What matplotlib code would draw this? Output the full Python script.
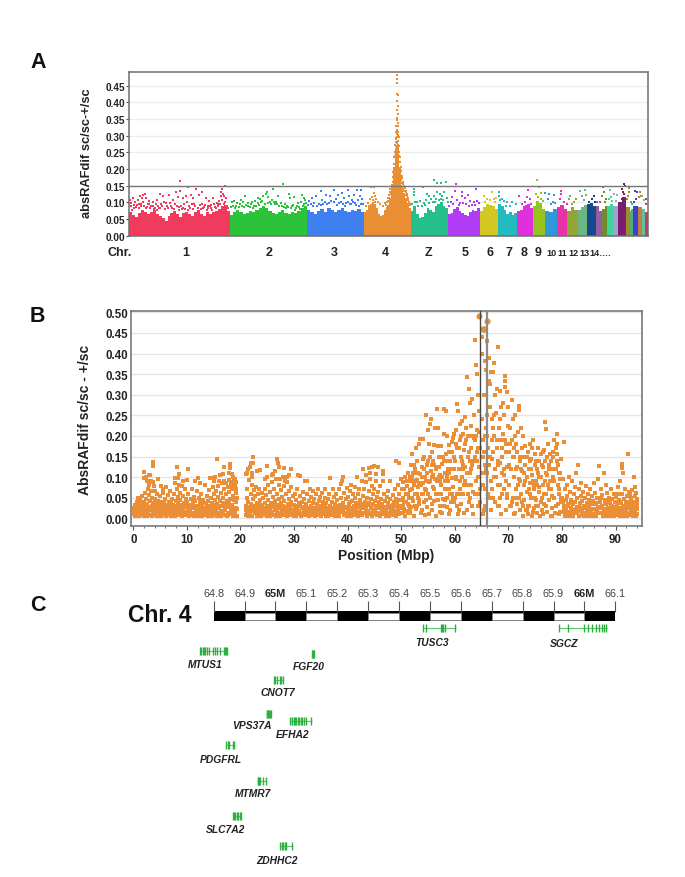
import matplotlib
matplotlib.use("Agg")
import matplotlib.pyplot as plt
import numpy as np

# Manhattan (A), chr4 scatter (B) and gene track (C).

W, H = 685, 878
plt.rcParams["font.family"] = ["Liberation Sans", "DejaVu Sans"]

# ---- panel A data ----
chr_names = ["1", "2", "3", "4", "Z", "5", "6", "7", "8", "9", "10", "11", "12", "13",
             "14", "15", "16", "17", "18", "19", "20", "21", "22", "23", "24", "25"]
chr_sizes = [197, 151, 112, 91, 73, 62, 36, 37, 31, 24, 23, 20, 21, 18,
             17, 12, 10, 11, 10, 15, 8.5, 6, 9, 8, 6.5, 6]
chr_colors = ["#f03a5e", "#2bc33a", "#3f80f0", "#e98e35", "#26bf8c", "#b03cf5", "#d3c822",
              "#22bbc0", "#e030de", "#96c31e", "#3097d8", "#e833a8", "#93a536", "#6cb686",
              "#144a8a", "#955ba5", "#6f8a33", "#3dd69a", "#a2a2d2", "#7a1f70", "#a08a30",
              "#4cb070", "#4040d0", "#c08040", "#60c0a0", "#c04060"]
# solid lower part of each chromosome
chr_core = [
    [.072, .062, .056, .068, .076, .072, .064, .070, .076, .066, .058, .052, .044, .060, .068, .074,
     .064, .056, .068, .072, .064, .060, .072, .076, .066, .060, .072, .066, .070, .074, .080, .090, .092, .074],
    [.062, .072, .078, .070, .064, .068, .074, .072, .078, .084, .090, .082, .074, .068, .064, .070,
     .076, .068, .064, .072, .068, .074, .084, .088],
    [.078, .070, .066, .074, .080, .072, .082, .076, .072, .078, .084, .074, .070, .078, .074, .080, .072],
    [.072, .078, .092, .096, .102, .096, .082, .066, .058, .062, .076, .086, .092, .112, .155, .205,
     .262, .272, .205, .150, .128, .112, .098, .082],
    [.074, .088, .066, .052, .056, .068, .084, .078, .072, .088, .094, .100, .090, .084],
    [.064, .068, .080, .086, .074, .068, .062, .060, .072, .078, .074, .084],
    [.075, .085, .096, .092, .090, .080], [.095, .088, .078, .066, .070, .062, .068],
    [.075, .078, .090, .095, .082], [.090, .105, .098, .080], [.075, .070, .080],
    [.085, .092, .080], [.075, .085, .078], [.078, .085, .092], [.095, .098, .088],
    [.090, .075], [.080, .088], [.090, .095], [.090], [.100, .115], [.085], [.075, .080], [.090],
    [.085], [.080], [.070],
]
# scattered points above the solid part, (Mb within chromosome, value)
chr_pts = [
    [(100.5, .163), (116, .145), (92, .132), (100, .134), (131, .139), (143, .130), (187, .149), (181, .140), (179, .130),
     (184, .126), (179, .120), (186, .118), (190, .112), (182, .108), (176, .105), (172, .098), (165, .112), (157, .104),
     (160, .092), (150, .112), (136, .122), (122, .122), (126, .112), (112, .118), (105, .112), (96, .116), (86, .108),
     (78, .122), (60, .125), (67, .118), (55, .108), (47, .100), (40, .105), (33, .112), (28, .122), (31, .126), (25, .112),
     (18, .108), (22, .118), (12, .100), (7, .112), (2, .108), (4, .098), (16, .092), (24, .096), (37, .094), (44, .090),
     (52, .094), (63, .096), (72, .098), (82, .090), (90, .096), (98, .086), (108, .094), (118, .090), (128, .096), (138, .092),
     (147, .086), (155, .088), (168, .086), (175, .088), (185, .096), (192, .090), (10, .082), (20, .084), (34, .082), (48, .080),
     (58, .082), (70, .080), (88, .080), (103, .080), (115, .078), (125, .080), (140, .080), (152, .078), (163, .078),
     (3, .088), (6, .078), (9, .092), (14, .086), (19, .096), (23, .088), (27, .100), (30, .090), (36, .086), (39, .096), (42, .082),
     (46, .088), (50, .084), (54, .078), (57, .090), (61, .084), (65, .090), (68, .100), (74, .088), (76, .084), (80, .098), (84, .082),
     (93, .088), (97, .076), (101, .090), (106, .084), (110, .080), (113, .100), (120, .082), (123, .096), (130, .088), (134, .082),
     (142, .096), (145, .084), (149, .092), (154, .082), (158, .090), (161, .084), (166, .096), (170, .082), (174, .096), (178, .094), (188, .100), (194, .082)],
    [(104, .156), (84, .140), (72, .130), (70, .125), (66, .118), (30, .118), (22, .107), (55, .112), (60, .110), (75, .115),
     (82, .108), (95, .118), (116, .125), (118, .112), (126, .117), (141, .122), (145, .112), (148, .108), (8, .105), (4, .102),
     (15, .098), (26, .100), (35, .097), (44, .100), (50, .104), (62, .100), (78, .102), (90, .100), (100, .098), (108, .096),
     (124, .092), (134, .098), (140, .100), (12, .090), (36, .088), (48, .090), (58, .092), (68, .096), (88, .094), (112, .090),
     (120, .084), (130, .084), (146, .096), (150, .098), (2, .086), (6, .090), (10, .082), (18, .086), (20, .094), (24, .090), (28, .086),
     (32, .092), (40, .086), (42, .094), (46, .084), (52, .088), (56, .098), (64, .104), (74, .098), (80, .094), (86, .102), (92, .096),
     (96, .090), (102, .090), (106, .086), (110, .084), (114, .086), (122, .088), (128, .078), (132, .090), (136, .086), (138, .080), (144, .088)],
    [(27, .135), (52, .137), (80, .136), (98, .137), (105, .137), (92, .122), (82, .120), (104, .120), (68, .128), (60, .122),
     (45, .118), (38, .122), (18, .118), (10, .112), (5, .104), (30, .108), (56, .110), (72, .112), (88, .108), (100, .106),
     (108, .110), (14, .098), (24, .096), (36, .100), (48, .104), (62, .098), (76, .098), (84, .096), (94, .098), (106, .094),
     (2, .092), (8, .094), (12, .088), (20, .090), (28, .092), (32, .096), (40, .094), (44, .098), (52, .100), (58, .092), (66, .100),
     (70, .096), (74, .090), (80, .102), (86, .094), (90, .100), (96, .092), (102, .088), (110, .094)],
    [(64.5, .483), (65, .470), (64.7, .458), (64.3, .425), (65.2, .422), (64.6, .405), (65.5, .388), (65, .378), (65.4, .365),
     (64.5, .352), (64, .346), (65.6, .338), (66, .330), (63.6, .328), (64.3, .318), (65.4, .312), (63.4, .305), (66, .302),
     (64.6, .296), (62.8, .292), (65.7, .284), (64, .278), (66.4, .272), (62.4, .268), (65, .262), (67, .258), (61.6, .254),
     (63.5, .250), (65.8, .246), (67.8, .240), (61, .238), (64.3, .234), (66.8, .228), (62.5, .224), (68, .222), (60.6, .216),
     (65.3, .212), (63.2, .208), (69.4, .204), (67, .202), (60, .198), (62, .196), (70, .192), (66, .190), (59.4, .186), (68.5, .182),
     (71, .178), (58.6, .172), (61.2, .170), (72, .168), (69.6, .164), (57.8, .160), (73, .158), (60, .156), (71, .150), (56.4, .146),
     (74, .144), (75.5, .140), (54, .142), (78, .133), (82, .130), (55, .130), (80, .122), (52, .124), (84, .118), (48, .112), (49, .122),
     (14, .146), (20, .145), (19, .128), (22, .118), (12, .110), (16, .116), (18, .106), (24, .110), (21, .100), (8, .098), (26, .102),
     (30, .094), (3, .090), (40, .098), (44, .102), (46, .112), (43, .092), (36, .090), (86, .108), (88, .100), (90, .096), (89, .092),
     (58, .215), (59, .235), (60, .25), (60.5, .272), (61.4, .29), (62, .282), (63, .31), (62.7, .33), (66.5, .31), (67.5, .295), (68, .27),
     (68.6, .25), (69.8, .235), (70.5, .222), (71.5, .205), (72.5, .195), (73.5, .18), (74.5, .172), (75, .16), (76.5, .155), (77.5, .148),
     (79, .142), (81, .135), (83, .125), (57, .19), (56, .175), (55.5, .16), (53.5, .15), (51, .14), (50, .13), (47, .105), (85, .112)],
    [(45.6, .168), (68, .162), (59, .159), (52, .158), (24, .145), (6.5, .140), (6.5, .130), (6, .122), (32, .125), (35, .120),
     (52, .130), (57, .125), (66, .132), (62, .120), (46, .118), (40, .110), (30, .108), (18, .104), (12, .100), (26, .098), (50, .110), (60, .110), (70, .112),
     (2, .094), (9, .100), (15, .090), (22, .088), (28, .092), (36, .098), (43, .102), (48, .100), (55, .106), (64, .108), (72, .100)],
    [(16, .155), (54, .141), (13, .135), (27, .132), (38, .122), (28, .120), (33, .112), (8, .115), (5, .100), (18, .106), (42, .104), (50, .102), (56, .105), (24, .098), (46, .092),
     (2, .088), (10, .096), (22, .092), (30, .098), (36, .096), (40, .090), (52, .092), (60, .098)],
    [(23, .130), (8, .118), (14, .110), (27, .110), (11, .100), (30, .100), (20, .106), (32, .112)],
    [(1.3, .132), (1.3, .120), (8, .110), (11, .105), (18, .100), (28, .100), (34, .095), (15, .090), (4, .108), (24, .090)],
    [(22, .138), (4, .120), (20, .115), (25, .110), (16, .100), (27, .095), (17, .090), (10, .095)],
    [(7, .168), (12, .145), (5, .125), (15, .128), (9, .115), (15, .110), (20, .105)],
    [(0.5, .128), (8, .125), (18, .123), (5, .110), (12, .095), (16, .100), (20, .098)],
    [(7, .134), (7, .125), (5, .110), (14, .100), (19, .095)],
    [(3, .110), (18, .110), (13, .100), (10, .095), (6, .118)],
    [(4, .135), (14, .138), (7, .120), (15, .122), (11, .108)],
    [(10, .110), (16, .100), (4, .100), (13, .118)],
    [(14, .147), (2, .100), (9, .100)],
    [(1, .120), (5, .100), (8, .110), (3, .130)],
    [(6, .138), (4, .110), (7, .115), (9, .105)],
    [(3, .125), (9, .122), (6, .105)],
    [(13, .155), (14, .148), (10, .130), (8, .110), (12, .125), (9, .140)],
    [(7, .143), (5, .120), (3, .110), (6, .130)],
    [(3, .100), (5, .095)],
    [(5, .134), (3, .100), (7, .110), (8, .130)],
    [(4, .130), (3, .115), (6, .120)],
    [(1, .120), (5, .108)],
    [(2, .110), (3, .095)],
]

# ---- panel B data, (position Mbp, absRAFdif) ----
b_pts_00 = [(0.1, .01), (0.2, .02), (0.3, .032), (0.4, .006), (0.5, .015), (0.55, .027), (0.6, .04), (0.7, .009), (0.8, .05), (0.9, .021), (1.0, .033), (1.05, .012),
            (1.15, .005), (1.2, .044), (1.3, .025), (1.4, .016), (1.5, .036), (1.55, .008), (1.65, .055), (1.75, .028), (1.85, .018), (1.95, .04), (2.05, .006), (2.1, .03),
            (2.2, .062), (2.3, .014), (2.35, .048), (2.45, .022), (2.55, .005), (2.6, .035), (2.7, .012), (2.75, .07), (2.85, .026), (2.95, .057), (3.05, .009), (3.1, .041),
            (3.2, .019), (3.3, .066), (3.4, .03), (3.45, .006), (3.55, .05), (3.65, .016), (3.75, .038), (3.85, .078), (3.9, .024), (4.0, .008), (4.1, .046), (4.2, .032),
            (4.3, .013), (4.35, .06), (4.45, .005), (4.55, .027), (4.65, .042), (4.75, .018), (4.85, .009), (4.95, .034), (5.05, .054), (5.15, .02), (5.2, .005), (5.3, .04),
            (5.4, .012), (5.5, .028), (5.6, .062), (5.7, .008), (5.75, .036), (5.85, .017), (5.95, .048), (6.05, .025), (6.15, .005), (6.25, .033), (6.35, .012), (6.45, .056),
            (6.5, .021), (6.6, .04), (6.7, .008), (6.8, .029), (6.9, .015), (7.0, .038), (7.1, .005), (7.2, .023), (7.3, .048), (7.4, .011), (7.5, .032), (7.6, .06), (7.7, .018),
            (7.8, .006), (7.9, .042), (8.0, .027), (8.1, .07), (8.2, .013), (8.3, .052), (8.4, .034), (8.5, .008), (8.6, .02), (8.7, .062), (8.8, .044), (8.9, .012), (9.0, .03),
            (9.1, .005), (9.2, .055), (9.3, .024), (9.4, .038), (9.5, .016), (9.6, .07), (9.7, .008), (9.8, .047), (9.9, .028),
            (3.7, .137), (3.7, .128), (2, .113), (2.3, .10), (2.9, .105), (3.2, .105), (3.3, .09), (3.6, .088), (2.6, .09), (4.6, .095), (5.2, .078), (6.1, .077), (8.1, .124),
            (7.7, .098), (8.3, .098), (8.6, .108), (7.8, .085), (8.5, .08), (9, .078), (9.3, .09), (2.0, .098), (3.0, .08), (4.0, .066), (5.6, .072), (6.9, .066)]
b_pts_10 = [(10.0, .012), (10.1, .04), (10.2, .022), (10.3, .058), (10.4, .006), (10.5, .033), (10.6, .016), (10.7, .048), (10.8, .026), (10.9, .009), (11.0, .07), (11.1, .037),
            (11.2, .014), (11.3, .052), (11.4, .005), (11.5, .024), (11.6, .043), (11.7, .011), (11.8, .066), (11.9, .031), (12.0, .018), (12.1, .006), (12.2, .05), (12.3, .027),
            (12.4, .04), (12.5, .012), (12.6, .02), (12.7, .06), (12.8, .005), (12.9, .034), (13.0, .015), (13.1, .045), (13.2, .025), (13.3, .08), (13.4, .008), (13.5, .036),
            (13.6, .018), (13.7, .055), (13.8, .028), (13.9, .006), (14.0, .042), (14.1, .013), (14.2, .068), (14.3, .03), (14.4, .021), (14.5, .05), (14.6, .005), (14.7, .038),
            (14.8, .075), (14.9, .016), (15.0, .058), (15.1, .026), (15.2, .008), (15.3, .044), (15.4, .067), (15.5, .019), (15.6, .034), (15.7, .006), (15.8, .052), (15.9, .079),
            (16.0, .024), (16.1, .012), (16.2, .041), (16.3, .062), (16.4, .005), (16.5, .03), (16.6, .085), (16.7, .018), (16.8, .049), (16.9, .009), (17.0, .07), (17.1, .036),
            (17.2, .023), (17.3, .058), (17.4, .006), (17.5, .042), (17.6, .014), (17.7, .077), (17.8, .028), (17.9, .064), (18.0, .01), (18.1, .046), (18.2, .088), (18.3, .019),
            (18.4, .033), (18.5, .07), (18.6, .006), (18.7, .054), (18.8, .026), (18.9, .08), (19.0, .014), (19.1, .04), (19.2, .062), (19.25, .072), (19.3, .022), (19.35, .006),
            (10.3, .12), (11.5, .09), (10.1, .092), (12.1, .098), (12.5, .085), (15.6, .143), (16.7, .108), (16.2, .105), (17, .125), (18, .133), (18.1, .123), (17.8, .11),
            (18.4, .108), (18.6, .10), (19, .095), (18.8, .09), (19.2, .088), (14.3, .098), (14.9, .098), (15.3, .10), (15, .09), (16, .09), (17, .09), (17.3, .085), (17.8, .092), (18.3, .08)]
b_pts_20 = [(21.0, .008), (21.1, .03), (21.15, .05), (21.2, .018), (21.3, .07), (21.4, .006), (21.5, .04), (21.6, .092), (21.7, .024), (21.8, .012), (21.9, .058), (22.0, .034),
            (22.1, .08), (22.2, .005), (22.3, .046), (22.4, .02), (22.5, .068), (22.6, .03), (22.7, .012), (22.8, .054), (22.9, .075), (23.0, .006), (23.1, .038), (23.2, .02),
            (23.3, .06), (23.4, .026), (23.5, .07), (23.6, .012), (23.7, .044), (23.8, .005), (23.9, .032), (24.0, .062), (24.1, .016), (24.2, .05), (24.3, .025), (24.4, .008),
            (24.5, .072), (24.6, .038), (24.7, .018), (24.8, .056), (24.9, .006), (25.0, .03), (25.1, .08), (25.2, .045), (25.3, .012), (25.4, .022), (25.5, .065), (25.6, .005),
            (25.7, .036), (25.8, .088), (25.9, .016), (26.0, .052), (26.1, .027), (26.2, .009), (26.3, .07), (26.4, .041), (26.5, .02), (26.6, .095), (26.7, .006), (26.8, .033),
            (26.9, .06), (27.0, .014), (27.1, .048), (27.2, .082), (27.3, .024), (27.4, .005), (27.5, .038), (27.6, .068), (27.7, .017), (27.8, .052), (27.9, .009), (28.0, .03),
            (28.1, .078), (28.2, .042), (28.3, .012), (28.4, .022), (28.5, .058), (28.6, .006), (28.7, .088), (28.8, .035), (28.9, .016), (29.0, .066), (29.1, .048), (29.2, .008),
            (29.3, .026), (29.4, .075), (29.5, .04), (29.6, .012), (29.7, .02), (29.8, .055), (29.9, .005),
            (22.3, .15), (22, .135), (22.4, .135), (21.8, .125), (21.5, .12), (21.3, .11), (21, .108), (22.2, .11), (22.1, .1), (23, .115), (23.7, .118), (25, .127), (25.8, .105),
            (26.1, .108), (24.5, .095), (25, .1), (26.9, .145), (27, .134), (27.2, .125), (26.5, .115), (28.2, .122), (29.4, .12), (28, .10), (28.7, .1), (29.1, .105), (27.3, .096), (28.3, .09)]
b_pts_30 = [(30.0, .032), (30.1, .014), (30.2, .06), (30.3, .006), (30.4, .044), (30.5, .022), (30.6, .07), (30.7, .01), (30.8, .105), (30.9, .036), (31.0, .018), (31.1, .054),
            (31.2, .102), (31.3, .005), (31.4, .028), (31.5, .04), (31.6, .012), (31.7, .064), (31.8, .022), (31.9, .048), (32.0, .09), (32.1, .008), (32.2, .034), (32.3, .016),
            (32.4, .058), (32.5, .09), (32.6, .026), (32.7, .005), (32.8, .042), (32.9, .07), (33.0, .014), (33.1, .03), (33.2, .052), (33.3, .008), (33.4, .02), (33.5, .038),
            (33.6, .066), (33.7, .012), (33.8, .046), (33.9, .025), (34.0, .005), (34.1, .058), (34.2, .034), (34.3, .016), (34.4, .07), (34.5, .009), (34.6, .042), (34.7, .024),
            (34.8, .052), (34.9, .013), (35.0, .03), (35.1, .005), (35.2, .062), (35.3, .02), (35.4, .04), (35.5, .011), (35.6, .028), (35.7, .05), (35.8, .07), (35.9, .006),
            (36.0, .036), (36.1, .016), (36.2, .024), (36.3, .005), (36.4, .046), (36.5, .012), (36.6, .06), (36.7, .03), (36.8, .097), (36.9, .02), (37.0, .008), (37.1, .04),
            (37.2, .072), (37.3, .014), (37.4, .052), (37.5, .026), (37.6, .005), (37.7, .034), (37.8, .018), (37.9, .06), (38.0, .01), (38.1, .044), (38.2, .024), (38.3, .07),
            (38.4, .006), (38.5, .032), (38.6, .015), (38.7, .083), (38.8, .05), (38.9, .02), (39.0, .09), (39.1, .038), (39.2, .1), (39.3, .008), (39.4, .062), (39.5, .028),
            (39.6, .014), (39.7, .046), (39.8, .074), (39.9, .005)]
b_pts_40 = [(40.0, .02), (40.1, .052), (40.2, .034), (40.3, .01), (40.4, .066), (40.5, .026), (40.6, .005), (40.7, .082), (40.8, .042), (40.9, .016), (41.0, .06), (41.1, .03),
            (41.2, .008), (41.3, .05), (41.4, .076), (41.5, .022), (41.6, .038), (41.7, .012), (41.8, .1), (41.9, .058), (42.0, .005), (42.1, .028), (42.2, .07), (42.3, .044),
            (42.4, .016), (42.5, .034), (42.6, .09), (42.7, .008), (42.8, .054), (42.9, .12), (43.0, .024), (43.1, .072), (43.2, .04), (43.3, .012), (43.4, .088), (43.5, .03),
            (43.6, .006), (43.7, .05), (43.8, .018), (43.9, .066), (44.0, .036), (44.1, .095), (44.2, .01), (44.3, .046), (44.4, .025), (44.5, .078), (44.6, .005), (44.7, .058),
            (44.8, .032), (44.9, .014), (45.0, .072), (45.1, .042), (45.2, .02), (45.3, .09), (45.4, .008), (45.5, .052), (45.6, .03), (45.7, .065), (45.8, .012), (45.9, .04),
            (46.0, .005), (46.1, .078), (46.2, .024), (46.3, .048), (46.4, .016), (46.5, .034), (46.6, .09), (46.7, .01), (46.8, .06), (46.9, .028), (47.0, .042), (47.1, .006),
            (47.2, .02), (47.3, .052), (47.4, .012), (47.5, .036), (47.6, .066), (47.7, .005), (47.8, .024), (47.9, .046), (48.0, .09), (48.1, .015), (48.2, .03), (48.3, .008),
            (48.4, .056), (48.5, .022), (48.6, .04), (48.7, .012), (48.8, .07), (48.9, .03), (49.0, .005), (49.1, .048), (49.2, .018), (49.3, .038), (49.4, .08), (49.5, .01),
            (49.6, .06), (49.7, .026), (49.8, .044), (49.9, .014),
            (44, .123), (44.5, .125), (45, .127), (45.6, .125), (46.6, .115), (46.6, .108), (49, .14), (49.6, .135), (50, .095), (45.3, .108), (44.2, .11), (43.4, .105)]
b_pts_50 = [(50.0, .03), (50.1, .07), (50.2, .012), (50.3, .05), (50.4, .088), (50.5, .022), (50.6, .04), (50.7, .006), (50.8, .1), (50.9, .06), (51.0, .018), (51.1, .078),
            (51.2, .034), (51.3, .11), (51.4, .05), (51.5, .09), (51.6, .012), (51.7, .068), (51.8, .13), (51.9, .028), (52.0, .155), (52.1, .1), (52.2, .042), (52.3, .08),
            (52.4, .006), (52.5, .12), (52.6, .06), (52.7, .17), (52.8, .022), (52.9, .092), (53.0, .14), (53.1, .05), (53.2, .075), (53.3, .18), (53.4, .034), (53.5, .108),
            (53.6, .192), (53.7, .014), (53.8, .06), (53.9, .125), (54.0, .085), (54.1, .192), (54.2, .04), (54.3, .15), (54.4, .008), (54.5, .1), (54.6, .068), (54.7, .25),
            (54.8, .13), (54.9, .028), (55.0, .215), (55.1, .088), (55.2, .18), (55.3, .23), (55.4, .05), (55.5, .24), (55.6, .115), (55.7, .16), (55.8, .02), (55.9, .075),
            (56.0, .14), (56.1, .042), (56.2, .178), (56.3, .22), (56.4, .095), (56.5, .006), (56.6, .265), (56.7, .125), (56.8, .22), (56.9, .175), (57.0, .06), (57.1, .15),
            (57.2, .03), (57.3, .105), (57.4, .08), (57.5, .175), (57.6, .014), (57.7, .132), (57.8, .048), (57.9, .265), (58.0, .205), (58.1, .11), (58.2, .07), (58.3, .155),
            (58.4, .26), (58.5, .2), (58.6, .028), (58.7, .09), (58.8, .12), (58.9, .178), (59.0, .01), (59.1, .06), (59.2, .14), (59.3, .04), (59.4, .098), (59.5, .16),
            (59.6, .075), (59.7, .195), (59.8, .205), (59.9, .12),
            (50.4, .03), (51.2, .012), (52.0, .07), (52.6, .03), (53.2, .11), (53.9, .02), (54.6, .045), (55.2, .01), (55.8, .1), (56.5, .06), (57.2, .09), (58.0, .03), (58.6, .05),
            (59.2, .02), (59.8, .04), (51.6, .1), (52.4, .13), (53.0, .09), (54.0, .145), (55.0, .14), (56.0, .105), (57.0, .125), (58.0, .14), (59.0, .11), (59.5, .185)]
b_pts_60 = [(60.0, .14), (60.1, .05), (60.2, .095), (60.3, .215), (60.4, .278), (60.5, .17), (60.6, .26), (60.7, .02), (60.8, .12), (60.9, .07), (61.0, .19), (61.1, .15),
            (61.2, .034), (61.3, .235), (61.4, .1), (61.5, .205), (61.6, .06), (61.7, .165), (61.8, .012), (61.9, .125), (62.0, .245), (62.1, .19), (62.2, .08), (62.3, .342),
            (62.4, .15), (62.5, .2), (62.6, .314), (62.7, .04), (62.8, .11), (62.9, .28), (63.0, .17), (63.1, .225), (63.2, .29), (63.3, .13), (63.4, .065), (63.5, .195),
            (63.6, .25), (63.7, .433), (63.8, .15), (63.9, .09), (64.0, .372), (64.1, .35), (64.2, .215), (64.3, .17), (64.4, .3), (64.5, .125), (64.6, .26), (64.7, .04), (64.8, .07),
            (65.0, .24), (65.1, .44), (65.15, .40), (65.2, .11), (65.3, .19), (65.4, .3), (65.5, .16), (65.6, .07), (65.7, .383), (65.75, .36), (65.8, .12), (65.9, .22),
            (66.1, .43), (66.2, .17), (66.3, .334), (66.4, .388), (66.5, .27), (66.6, .326), (66.7, .09), (66.8, .354), (66.9, .24), (67.0, .145), (67.1, .354), (67.2, .05),
            (67.3, .2), (67.4, .377), (67.5, .3), (67.6, .12), (67.7, .255), (67.8, .17), (67.9, .315), (68.0, .08), (68.1, .417), (68.2, .22), (68.3, .03), (68.4, .135),
            (68.5, .31), (68.6, .19), (68.7, .27), (68.8, .06), (68.9, .15), (69.0, .205), (69.1, .105), (69.2, .25), (69.3, .345), (69.35, .318), (69.4, .334), (69.5, .18),
            (69.6, .02), (69.7, .306), (69.8, .125), (69.9, .225),
            (60.4, .03), (61.0, .09), (61.6, .13), (62.2, .02), (62.8, .05), (63.4, .01), (64.0, .09), (64.3, .03), (65.2, .01), (65.6, .03), (66.2, .06), (66.8, .02), (67.4, .1), (68.0, .03),
            (68.6, .01), (69.2, .07), (69.8, .05), (60.2, .18), (61.2, .2), (62.6, .16), (63.0, .12), (63.7, .19), (64.2, .14), (66.0, .2), (66.6, .15), (67.2, .22), (67.9, .19), (68.4, .24),
            (69.0, .28), (69.6, .16), (60.6, .01), (62.0, .09), (63.2, .03), (64.7, .17), (65.5, .02), (67.0, .07)]
b_pts_70 = [(70.0, .27), (70.1, .16), (70.2, .08), (70.3, .22), (70.4, .03), (70.5, .12), (70.6, .19), (70.7, .286), (70.8, .05), (70.9, .24), (71.0, .1), (71.1, .15),
            (71.2, .012), (71.3, .25), (71.4, .07), (71.5, .18), (71.6, .125), (71.7, .035), (71.8, .21), (71.9, .273), (71.95, .264), (72.0, .095), (72.1, .14), (72.2, .02), (72.3, .22),
            (72.4, .06), (72.5, .17), (72.6, .115), (72.7, .005), (72.8, .2), (72.9, .08), (73.0, .045), (73.1, .13), (73.2, .175), (73.3, .02), (73.4, .1), (73.5, .065), (73.6, .16),
            (73.7, .01), (73.8, .12), (73.9, .03), (74.0, .18), (74.1, .085), (74.2, .05), (74.3, .145), (74.4, .005), (74.5, .105), (74.6, .19), (74.7, .07), (74.8, .025), (74.9, .13),
            (75.0, .155), (75.1, .045), (75.2, .09), (75.3, .012), (75.4, .12), (75.5, .17), (75.6, .03), (75.7, .065), (75.8, .14), (75.9, .005), (76.0, .1), (76.1, .155), (76.2, .05),
            (76.3, .02), (76.4, .125), (76.5, .08), (76.6, .165), (76.7, .035), (76.8, .14), (76.9, .233), (77.0, .217), (77.1, .06), (77.2, .105), (77.3, .015), (77.4, .18), (77.5, .13),
            (77.6, .045), (77.7, .09), (77.8, .155), (77.9, .005), (78.0, .07), (78.1, .12), (78.2, .025), (78.3, .15), (78.4, .1), (78.5, .05), (78.6, .19), (78.7, .012), (78.8, .17),
            (79.0, .205), (79.05, .18), (79.1, .155), (79.2, .08), (79.3, .035), (79.4, .11), (79.5, .06), (79.6, .015), (79.7, .095), (79.8, .145), (79.9, .04),
            (70.5, .03), (71.0, .01), (71.6, .05), (72.2, .09), (72.8, .03), (73.4, .02), (74.0, .06), (74.6, .015), (75.2, .03), (75.8, .075), (76.4, .01), (77.0, .03), (77.6, .07), (78.2, .005), (78.8, .03), (79.4, .01)]
b_pts_80 = [(80.0, .05), (80.1, .015), (80.2, .095), (80.3, .03), (80.4, .185), (80.5, .07), (80.6, .005), (80.7, .045), (80.8, .02), (80.9, .08), (81.0, .055), (81.1, .012),
            (81.2, .035), (81.3, .1), (81.4, .006), (81.5, .065), (81.6, .025), (81.7, .045), (81.8, .015), (81.9, .09), (82.0, .034), (82.1, .005), (82.2, .058), (82.3, .02), (82.4, .075),
            (82.5, .04), (82.6, .012), (82.7, .11), (82.8, .028), (82.9, .05), (83.0, .13), (83.1, .006), (83.2, .07), (83.3, .036), (83.4, .018), (83.5, .055), (83.6, .085), (83.7, .009),
            (83.8, .042), (83.9, .025), (84.0, .065), (84.1, .005), (84.2, .03), (84.3, .05), (84.4, .014), (84.5, .078), (84.6, .038), (84.7, .02), (84.8, .06), (84.9, .006), (85.0, .045),
            (85.1, .028), (85.2, .012), (85.3, .07), (85.4, .034), (85.5, .018), (85.6, .055), (85.7, .005), (85.8, .042), (85.9, .085), (86.0, .022), (86.1, .01), (86.2, .062), (86.3, .036),
            (86.4, .005), (86.5, .05), (86.6, .016), (86.7, .095), (86.8, .028), (87.0, .128), (87.1, .04), (87.2, .072), (87.3, .012), (87.4, .03), (87.5, .056), (87.6, .005), (87.8, .11),
            (87.9, .022), (88.0, .045), (88.1, .014), (88.2, .08), (88.3, .034), (88.4, .006), (88.5, .062), (88.6, .025), (88.7, .01), (88.8, .05), (88.9, .038), (89.0, .018), (89.1, .072),
            (89.2, .005), (89.3, .03), (89.4, .048), (89.5, .012), (89.6, .024), (89.7, .06), (89.8, .006), (89.9, .04)]
b_pts_90 = [(90.0, .02), (90.1, .052), (90.2, .008), (90.3, .034), (90.4, .075), (90.5, .015), (90.6, .044), (90.7, .025), (90.8, .005), (90.9, .09), (91.0, .036), (91.1, .012),
            (91.2, .132), (91.25, .122), (91.3, .06), (91.4, .11), (91.45, .02), (91.5, .048), (91.6, .006), (91.7, .03), (91.8, .07), (91.9, .016), (92.0, .04), (92.1, .055), (92.2, .005),
            (92.3, .155), (92.4, .026), (92.5, .012), (92.6, .065), (92.7, .034), (92.8, .008), (92.9, .05), (93.0, .02), (93.1, .068), (93.2, .04), (93.3, .006), (93.4, .028), (93.5, .1),
            (93.6, .014), (93.7, .054), (93.8, .034), (93.9, .005), (94.0, .046), (94.0, .022), (94.0, .01), (93.9, .062), (93.7, .075), (93.2, .02), (92.7, .06), (90.5, .06), (91.0, .005)]
# second pass over the dense low band
b_low_a = [(0.15, .024), (0.35, .012), (0.6, .019), (0.75, .029), (1.1, .02), (1.35, .008), (1.6, .018), (1.9, .027), (2.15, .013), (2.5, .03), (2.8, .018), (3.15, .028), (3.5, .02), (3.8, .01), (4.15, .018), (4.4, .036), (4.7, .026), (5.0, .012), (5.25, .03), (5.55, .02), (5.9, .008), (6.2, .018), (6.55, .03), (6.85, .022), (7.15, .014), (7.45, .024), (7.75, .03), (8.05, .014), (8.35, .024), (8.65, .032), (8.95, .02), (9.25, .013), (9.55, .03), (9.85, .012),
           (10.15, .03), (10.45, .02), (10.75, .012), (11.05, .024), (11.35, .03), (11.65, .019), (11.95, .011), (12.25, .018), (12.55, .032), (12.85, .022), (13.15, .01), (13.45, .024), (13.75, .012), (14.05, .02), (14.35, .01), (14.65, .026), (14.95, .032), (15.25, .018), (15.55, .01), (15.85, .024), (16.15, .03), (16.45, .016), (16.75, .036), (17.05, .02), (17.35, .028), (17.65, .008), (17.95, .036), (18.25, .03), (18.55, .016), (18.85, .044), (19.15, .024), (19.3, .05),
           (21.05, .02), (21.35, .028), (21.65, .012), (21.95, .022), (22.25, .03), (22.55, .018), (22.85, .028), (23.15, .012), (23.45, .034), (23.75, .022), (24.05, .03), (24.35, .014), (24.65, .024), (24.95, .016), (25.25, .03), (25.55, .02), (25.85, .008), (26.15, .036), (26.45, .03), (26.75, .018), (27.05, .028), (27.35, .012), (27.65, .03), (27.95, .022), (28.25, .028), (28.55, .016), (28.85, .024), (29.15, .03), (29.45, .016), (29.75, .032),
           (30.15, .022), (30.45, .03), (30.75, .016), (31.05, .03), (31.35, .012), (31.65, .026), (31.95, .008), (32.25, .024), (32.55, .012), (32.85, .02), (33.15, .028), (33.45, .012), (33.75, .024), (34.05, .018), (34.35, .028), (34.65, .016), (34.95, .022), (35.25, .01), (35.55, .02), (35.85, .03), (36.15, .008), (36.45, .024), (36.75, .014), (37.05, .026), (37.35, .02), (37.65, .012), (37.95, .03), (38.25, .012), (38.55, .024), (38.85, .03), (39.15, .016), (39.45, .012), (39.75, .026)]
b_low_b = [(40.15, .014), (40.45, .04), (40.75, .024), (41.05, .012), (41.35, .03), (41.65, .02), (41.95, .036), (42.25, .012), (42.55, .024), (42.85, .03), (43.15, .014), (43.45, .02), (43.75, .032), (44.05, .012), (44.35, .034), (44.65, .02), (44.95, .01), (45.25, .03), (45.55, .014), (45.85, .024), (46.15, .034), (46.45, .012), (46.75, .024), (47.05, .016), (47.35, .028), (47.65, .012), (47.95, .03), (48.25, .018), (48.55, .032), (48.85, .014), (49.15, .03), (49.45, .022), (49.75, .012),
           (80.15, .04), (80.45, .025), (80.75, .01), (81.05, .03), (81.35, .016), (81.65, .036), (81.95, .012), (82.25, .04), (82.55, .022), (82.85, .014), (83.15, .028), (83.45, .038), (83.75, .02), (84.05, .012), (84.35, .024), (84.65, .01), (84.95, .03), (85.25, .04), (85.55, .01), (85.85, .022), (86.15, .034), (86.45, .018), (86.75, .012), (87.05, .024), (87.35, .05), (87.65, .014), (87.95, .036), (88.25, .02), (88.55, .04), (88.85, .014), (89.15, .028), (89.45, .022), (89.75, .016),
           (90.15, .028), (90.45, .012), (90.75, .04), (91.05, .02), (91.35, .03), (91.65, .014), (91.95, .024), (92.25, .032), (92.55, .04), (92.85, .016), (93.15, .03), (93.45, .012), (93.75, .024), (93.95, .03), (94.0, .036)]
# second pass over the cloud around the peak
b_mid = [(50.3, .012), (50.9, .04), (51.3, .06), (51.7, .02), (52.1, .05), (52.5, .09), (52.9, .06), (53.3, .045), (53.7, .08), (54.1, .06), (54.5, .07), (54.9, .11), (55.3, .09), (55.7, .035), (56.1, .07), (56.5, .12), (56.9, .045), (57.3, .015), (57.7, .1), (58.1, .045), (58.5, .1), (58.9, .07), (59.3, .12), (59.7, .05),
         (50.6, .07), (51.0, .09), (51.4, .03), (51.8, .09), (52.2, .11), (52.6, .11), (53.0, .03), (53.4, .085), (53.8, .1), (54.2, .12), (54.6, .09), (55.0, .06), (55.4, .15), (55.8, .13), (56.2, .13), (56.6, .09), (57.0, .1), (57.4, .06), (57.8, .15), (58.2, .09), (58.6, .14), (59.0, .16), (59.4, .06), (59.8, .15),
         (60.3, .1), (60.7, .17), (61.1, .06), (61.5, .12), (61.9, .18), (62.3, .11), (62.7, .16), (63.1, .08), (63.5, .14), (63.9, .2), (64.3, .1), (64.6, .06), (65.2, .15), (65.6, .2), (66.0, .11), (66.4, .13), (66.8, .09), (67.2, .16), (67.6, .04), (68.0, .14), (68.4, .08), (68.8, .17), (69.2, .12), (69.6, .09),
         (60.5, .06), (60.9, .23), (61.3, .14), (61.7, .08), (62.1, .22), (62.5, .06), (62.9, .14), (63.3, .2), (63.7, .06), (64.1, .16), (64.5, .21), (65.3, .08), (65.7, .13), (66.1, .25), (66.5, .05), (66.9, .19), (67.3, .25), (67.7, .1), (68.1, .13), (68.5, .05), (68.9, .11), (69.3, .19), (69.7, .06),
         (70.2, .13), (70.6, .04), (71.0, .17), (71.4, .12), (71.8, .08), (72.2, .15), (72.6, .04), (73.0, .11), (73.4, .15), (73.8, .07), (74.2, .12), (74.6, .09), (75.0, .05), (75.4, .08), (75.8, .1), (76.2, .13), (76.6, .06), (77.0, .11), (77.4, .08), (77.8, .12), (78.2, .055), (78.6, .09), (79.0, .14), (79.4, .07), (79.8, .05),
         (70.4, .18), (70.8, .15), (71.2, .2), (71.6, .16), (72.0, .05), (72.4, .12), (72.8, .15), (73.2, .09), (73.6, .03), (74.0, .14), (74.4, .17), (74.8, .08), (75.2, .14), (75.6, .11), (76.0, .04), (76.4, .16), (76.8, .09), (77.2, .15), (77.6, .12), (78.0, .14), (78.4, .16), (78.8, .12), (79.2, .13), (79.6, .11)]
b_top_x = [64.6, 66.0, 65.2, 65.4]
b_top_y = [.49, .48, .46, .46]

highlight_bounds = [64.8, 66.1]

# ---- panel C data ----
scale_ticks = [64.8, 64.9, 65.0, 65.1, 65.2, 65.3, 65.4, 65.5, 65.6, 65.7, 65.8, 65.9, 66.0, 66.1]
scale_labels = ["64.8", "64.9", "65M", "65.1", "65.2", "65.3", "65.4", "65.5", "65.6", "65.7", "65.8", "65.9", "66M", "66.1"]
gene_names = ["MTUS1", "FGF20", "CNOT7", "VPS37A", "EFHA2", "PDGFRL", "MTMR7", "SLC7A2", "ZDHHC2", "TUSC3", "SGCZ"]
gene_spans = [(64.756, 64.842), (65.117, 65.125), (64.995, 65.025), (64.97, 64.986), (65.047, 65.117), (64.84, 64.867),
              (64.941, 64.969), (64.862, 64.889), (65.015, 65.056), (65.478, 65.583), (65.918, 66.072)]
gene_exons = [
    [64.756, 64.760, 64.764, 64.769, 64.773, 64.778, 64.786, 64.797, 64.803, 64.812, 64.820, 64.833, 64.836, 64.839, 64.842],
    [65.118, 65.120, 65.122, 65.124],
    [64.996, 65.000, 65.006, 65.014, 65.018, 65.024],
    [64.971, 64.974, 64.977, 64.980, 64.983, 64.986],
    [65.048, 65.052, 65.055, 65.059, 65.063, 65.067, 65.072, 65.076, 65.081, 65.086, 65.092, 65.100, 65.116],
    [64.841, 64.846, 64.850, 64.861, 64.866],
    [64.942, 64.945, 64.948, 64.951, 64.958, 64.968],
    [64.863, 64.866, 64.869, 64.875, 64.878, 64.884, 64.888],
    [65.016, 65.020, 65.025, 65.030, 65.035, 65.055],
    [65.479, 65.488, 65.535, 65.538, 65.541, 65.549, 65.582],
    [65.919, 65.948, 66.000, 66.013, 66.024, 66.037, 66.048, 66.056, 66.062, 66.071],
]

# layout of panel C, in figure pixels
gene_y = [652, 655, 681, 715, 722, 746, 782, 817, 847, 629, 629]
label_x = [205, 308.7, 278, 251.7, 293, 221, 253, 225.7, 277.3, 432, 564.3]
label_y = [665, 667, 693, 726, 735, 760, 794, 830, 861, 643, 644]
chr_label_x = [186, 269, 334, 385, 428.7, 465, 490, 508.7, 523.7, 538, 551.7, 562, 573, 584]


def axes_px(fig, left, right, top, bottom):
    return fig.add_axes([left / W, 1 - bottom / H, (right - left) / W, (bottom - top) / H])


def fig_text(fig, x, y, s, **kw):
    kw.setdefault("ha", "center")
    kw.setdefault("va", "center")
    fig.text(x / W, 1 - y / H, s, **kw)


def style_box(ax):
    for sp in ax.spines.values():
        sp.set_color("#6e6e6e")
        sp.set_linewidth(1.1)


def draw_a(fig):
    ax = axes_px(fig, 129, 648, 72.7, 236.7)
    offset = 0
    for size, color, core, pts in zip(chr_sizes, chr_colors, chr_core, chr_pts):
        edges = np.linspace(offset, offset + size, len(core) + 1)
        ax.bar(edges[:-1], core, width=np.diff(edges), align="edge", color=color, linewidth=0)
        xs = [offset + p[0] for p in pts]
        ys = [p[1] for p in pts]
        ax.scatter(xs, ys, s=1.8, marker="s", color=color, linewidths=0, zorder=3)
        offset += size
    ax.axhline(0.15, color="#777777", linewidth=1.0, zorder=4)
    ax.set_xlim(0, offset)
    ax.set_ylim(0, 0.492)
    ax.set_xticks([])
    yt = np.arange(0, 0.46, 0.05)
    ax.set_yticks(yt)
    ax.set_yticklabels([f"{v:.2f}" for v in yt], fontsize=7.2, fontweight="bold", color="#222222")
    ax.tick_params(axis="y", length=2, width=0.8, pad=1, color="#555555")
    ax.grid(axis="y", color="#eeeeee", linewidth=1)
    ax.set_axisbelow(True)
    style_box(ax)

    fig_text(fig, 87, 153, "absRAFdif sc/sc-+/sc", rotation=90, fontsize=9.3, fontweight="bold", color="#222222")
    fig_text(fig, 120, 253, "Chr.", fontsize=9, fontweight="bold", color="#222222")
    for name, x in zip(chr_names[:14], chr_label_x):
        small = name in ("10", "11", "12", "13")
        fig_text(fig, x, 254 if small else 253, name, fontsize=6.5 if small else 9,
                 fontweight="bold", color="#222222")
    fig_text(fig, 600, 254, "14….", fontsize=6.5, fontweight="bold", color="#222222")


def draw_b(fig):
    ax = axes_px(fig, 131, 642.3, 311.7, 526.7)
    pts = (b_pts_00 + b_pts_10 + b_pts_20 + b_pts_30 + b_pts_40 + b_pts_50
           + b_pts_60 + b_pts_70 + b_pts_80 + b_pts_90 + b_low_a + b_low_b + b_mid)
    ax.scatter([p[0] for p in pts], [p[1] for p in pts], s=7, marker="s",
               color="#ea8f37", linewidths=0, zorder=3)
    ax.scatter(b_top_x, b_top_y, s=20, marker="o", color="#ea8f37", linewidths=0, zorder=3)
    ax.axvline(highlight_bounds[0], color="#444444", linewidth=1.0, zorder=4)
    ax.axvline(highlight_bounds[1], color="#8a8a8a", linewidth=1.6, zorder=4)
    ax.set_xlim(-0.43, 95.0)
    ax.set_ylim(-0.018, 0.504)
    yt = np.arange(0, 0.51, 0.05)
    ax.set_yticks(yt)
    ax.set_yticklabels([f"{v:.2f}" for v in yt], fontsize=8.3, fontweight="bold", color="#222222")
    ax.set_xticks(np.arange(0, 91, 10))
    ax.set_xticks(np.arange(0, 95, 2), minor=True)
    ax.tick_params(axis="x", which="major", labelsize=8.3, length=3, width=0.8, pad=2, color="#555555")
    ax.tick_params(axis="x", which="minor", length=1.5, width=0.6, color="#555555")
    ax.tick_params(axis="y", length=0, pad=2)
    for lab in ax.get_xticklabels():
        lab.set_fontweight("bold")
        lab.set_color("#222222")
    ax.grid(axis="y", color="#e6e6e6", linewidth=1)
    ax.set_axisbelow(True)
    style_box(ax)

    fig_text(fig, 85, 420, "AbsRAFdif sc/sc - +/sc", rotation=90, fontsize=10, fontweight="bold", color="#222222")
    fig_text(fig, 386, 556, "Position (Mbp)", fontsize=10, fontweight="bold", color="#222222")


def draw_c(fig):
    ax = axes_px(fig, 213.7, 615.3, 590, 870)
    ax.set_xlim(scale_ticks[0], scale_ticks[-1])
    ax.set_ylim(870, 590)  # y in figure pixels
    ax.axis("off")
    ax.vlines(scale_ticks, 601.7, 613, color="#555555", linewidth=0.8, clip_on=False)
    ax.fill_between(scale_ticks, 612.3, 622.3, color="black", linewidth=0, clip_on=False)
    for left, right in zip(scale_ticks[1::2], scale_ticks[2::2]):
        ax.fill_between([left, right], 613.8, 620.8, facecolor="white", edgecolor="#888888",
                        linewidth=0.5, zorder=3)
    for tick, lab in zip(scale_ticks, scale_labels):
        bold = lab.endswith("M")
        ax.text(tick, 594, lab, ha="center", va="center", fontsize=7.8, color="#222222" if bold else "#444444",
                fontweight="bold" if bold else "normal", clip_on=False)
    for name, span, exons, y, lx, ly in zip(gene_names, gene_spans, gene_exons, gene_y, label_x, label_y):
        ax.hlines(y, span[0], span[1], color="#62c46e", linewidth=0.8, clip_on=False)
        ax.vlines(exons, y - 3.8, y + 3.8, color="#2cb040", linewidth=1.0, clip_on=False)
        fig_text(fig, lx, ly, name, fontsize=7.4, fontweight="bold", style="italic", color="#222222")

    fig_text(fig, 159.5, 615, "Chr. 4", fontsize=16.5, fontweight="bold", color="#111111")


def main():
    fig = plt.figure(figsize=(W / 100, H / 100), dpi=100)
    draw_a(fig)
    draw_b(fig)
    draw_c(fig)
    for letter, x, y in (("A", 38.5, 63), ("B", 37, 317), ("C", 38, 606)):
        fig_text(fig, x, y, letter, fontsize=15.5, fontweight="bold", color="#111111")
    fig.savefig("out.png", dpi=100, facecolor="white")
    plt.close(fig)


if __name__ == "__main__":
    main()
